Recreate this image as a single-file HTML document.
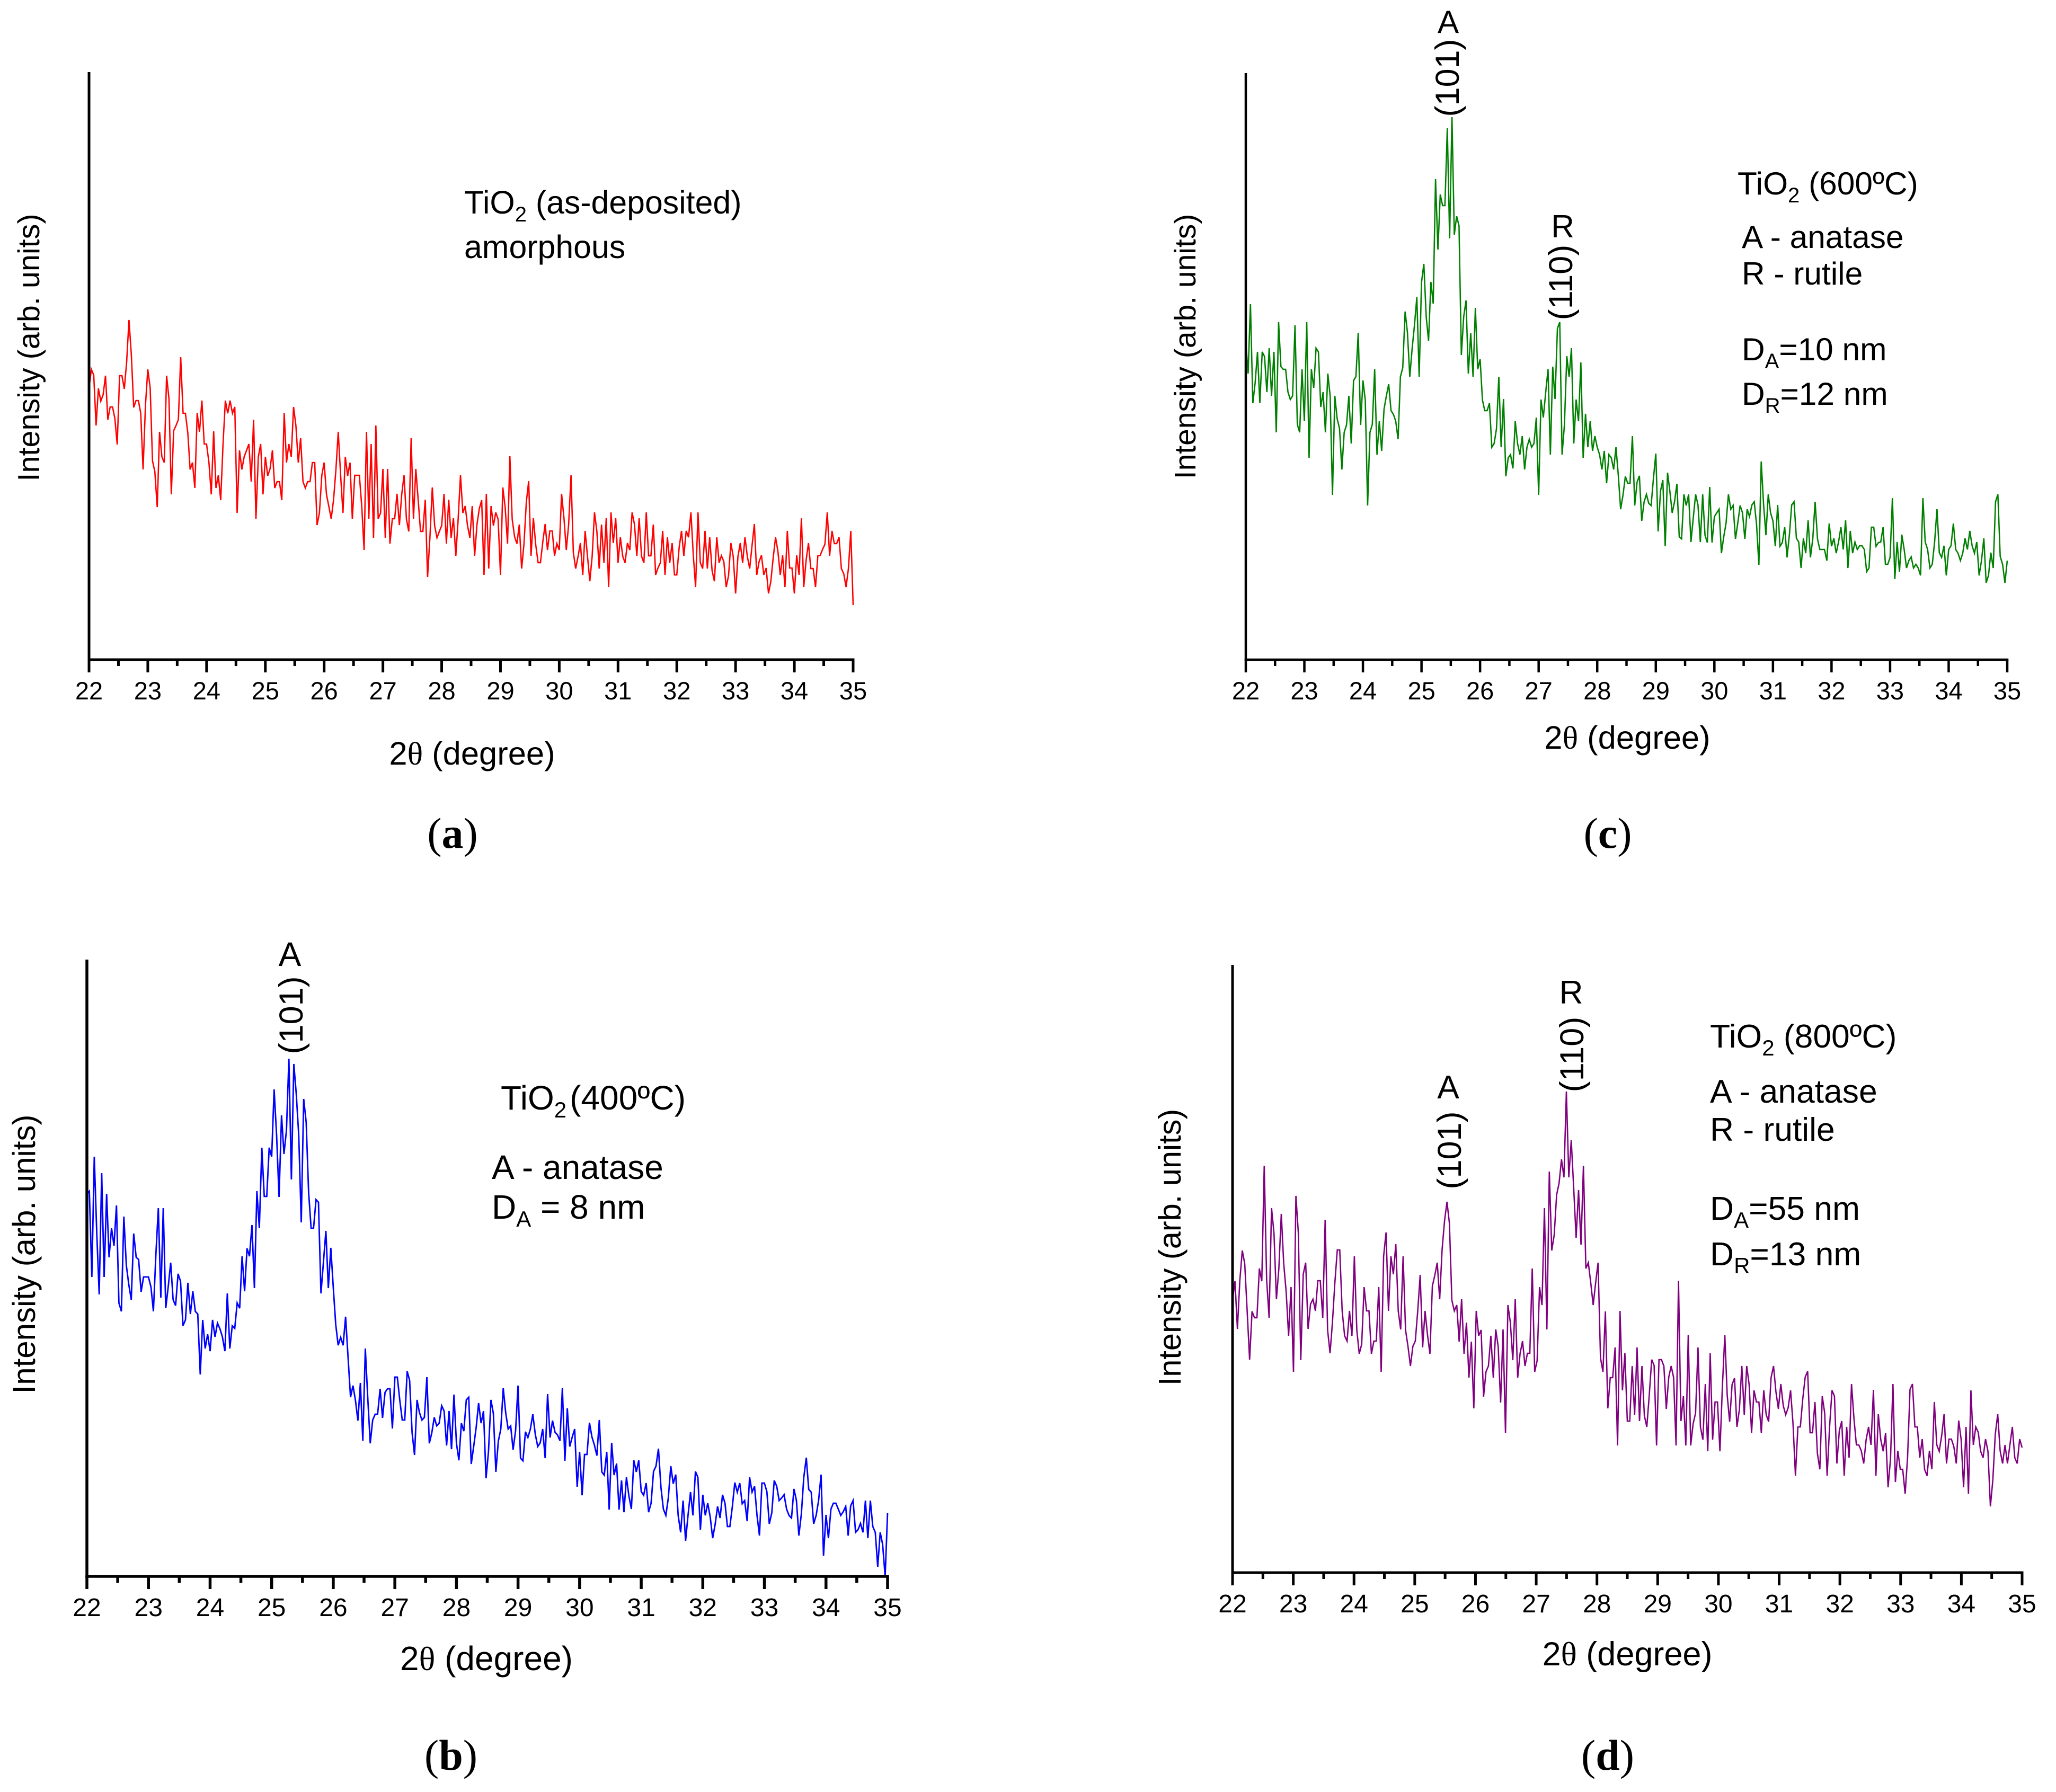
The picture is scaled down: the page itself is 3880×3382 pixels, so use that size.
<!DOCTYPE html>
<html lang="en">
<head>
<meta charset="utf-8">
<title>XRD patterns of TiO2 films</title>
<style>
html,body{margin:0;padding:0;background:#fff;}
svg{display:block;font-family:"Liberation Sans",sans-serif;fill:#000;}
.ann{font-size:60px;}
#panel-a .ann{font-size:60.8px;}
#panel-c .ann{font-size:60.4px;}
#panel-b .ann{font-size:64px;}
#panel-d .ann{font-size:62.4px;}
.ann.peak{font-size:63px !important;}
.tick{font-size:47px;text-anchor:middle;}
#panel-b .tick,#panel-d .tick{font-size:48px;}
.pl{font-family:"Liberation Serif",serif;font-size:82px;text-anchor:middle;}
</style>
</head>
<body>
<svg id="figure" xmlns="http://www.w3.org/2000/svg" width="3880" height="3382" viewBox="0 0 3880 3382">
<rect x="0" y="0" width="3880" height="3382" fill="#ffffff"/>

<g id="panel-a">
  <text transform="translate(74 656) rotate(-90)" text-anchor="middle" font-size="57.5">Intensity (arb. units)</text>
  <text x="891" y="1443" text-anchor="middle" font-size="61.5">2<tspan font-family="Liberation Serif">θ</tspan> (degree)</text>
  <text class="ann" x="876" y="403">TiO<tspan dy="15" font-size="40">2</tspan><tspan dy="-15"> (as-deposited)</tspan></text>
  <text class="ann" x="876" y="487">amorphous</text>
  <text class="pl" x="854" y="1600">(<tspan font-weight="bold">a</tspan>)</text>
</g>

<g id="panel-c">
  <text transform="translate(2256 654) rotate(-90)" text-anchor="middle" font-size="57">Intensity (arb. units)</text>
  <text x="3071" y="1413" text-anchor="middle" font-size="61.5">2<tspan font-family="Liberation Serif">θ</tspan> (degree)</text>
  <text class="ann" x="2733" y="62" text-anchor="middle">A</text>
  <text class="ann peak" transform="translate(2753 147) rotate(-90)" text-anchor="middle">(101)</text>
  <text class="ann" x="2949" y="448" text-anchor="middle">R</text>
  <text class="ann peak" transform="translate(2967 533) rotate(-90)" text-anchor="middle">(110)</text>
  <text class="ann" x="3279" y="367">TiO<tspan dy="15" font-size="40">2</tspan><tspan dy="-15"> (600ºC)</tspan></text>
  <text class="ann" x="3287" y="468">A - anatase</text>
  <text class="ann" x="3287" y="537">R - rutile</text>
  <text class="ann" x="3287" y="680">D<tspan dy="15" font-size="40">A</tspan><tspan dy="-15">=10 nm</tspan></text>
  <text class="ann" x="3287" y="764">D<tspan dy="15" font-size="40">R</tspan><tspan dy="-15">=12 nm</tspan></text>
  <text class="pl" x="3034" y="1600">(<tspan font-weight="bold">c</tspan>)</text>
</g>

<g id="panel-b">
  <text transform="translate(66 2367) rotate(-90)" text-anchor="middle" font-size="60">Intensity (arb. units)</text>
  <text x="918" y="3152" text-anchor="middle" font-size="64">2<tspan font-family="Liberation Serif">θ</tspan> (degree)</text>
  <text class="ann" x="547" y="1823" text-anchor="middle">A</text>
  <text class="ann peak" transform="translate(571 1916) rotate(-90)" text-anchor="middle">(101)</text>
  <text class="ann" x="945" y="2094">TiO<tspan dy="15" font-size="42">2</tspan><tspan dy="-15" dx="6">(400ºC)</tspan></text>
  <text class="ann" x="928" y="2225">A - anatase</text>
  <text class="ann" x="928" y="2300">D<tspan dy="15" font-size="42">A</tspan><tspan dy="-15"> = 8 nm</tspan></text>
  <text class="pl" x="851" y="3340">(<tspan font-weight="bold">b</tspan>)</text>
</g>

<g id="panel-d">
  <text transform="translate(2228 2354) rotate(-90)" text-anchor="middle" font-size="59.5">Intensity (arb. units)</text>
  <text x="3071" y="3143" text-anchor="middle" font-size="63">2<tspan font-family="Liberation Serif">θ</tspan> (degree)</text>
  <text class="ann" x="2733" y="2073" text-anchor="middle">A</text>
  <text class="ann peak" transform="translate(2757 2171) rotate(-90)" text-anchor="middle">(101)</text>
  <text class="ann" x="2965" y="1894" text-anchor="middle">R</text>
  <text class="ann peak" transform="translate(2988 1990) rotate(-90)" text-anchor="middle">(110)</text>
  <text class="ann" x="3227" y="1977">TiO<tspan dy="15" font-size="42">2</tspan><tspan dy="-15"> (800ºC)</tspan></text>
  <text class="ann" x="3227" y="2081">A - anatase</text>
  <text class="ann" x="3227" y="2153">R - rutile</text>
  <text class="ann" x="3227" y="2302">D<tspan dy="15" font-size="42">A</tspan><tspan dy="-15">=55 nm</tspan></text>
  <text class="ann" x="3227" y="2388">D<tspan dy="15" font-size="42">R</tspan><tspan dy="-15">=13 nm</tspan></text>
  <text class="pl" x="3034" y="3340">(<tspan font-weight="bold">d</tspan>)</text>
</g>
</svg>

<script>
// Axis tick labels (degrees 2-theta)
const thetaTicks = [22,23,24,25,26,27,28,29,30,31,32,33,34,35];
const thetaMin = 22;
const thetaMax = 35;

// Intensity readings (arb. units), evenly sampled from thetaMin to thetaMax
const intensityA = [518,554,543,448,518,494,506,542,459,483,483,461,412,542,542,517,568,647,581,482,495,495,471,365,486,554,519,381,361,294,436,389,378,542,498,318,438,448,459,577,471,471,434,365,378,330,472,436,495,413,413,378,318,437,330,354,307,413,495,471,495,471,483,283,401,365,389,401,413,342,459,272,389,413,318,389,353,366,401,330,342,342,307,472,378,413,389,483,448,378,424,342,330,342,342,378,378,260,283,354,378,318,295,272,307,364,436,354,283,389,353,378,272,354,354,354,295,213,436,272,413,236,448,272,283,366,236,366,225,272,272,319,260,318,354,271,248,424,272,366,307,248,248,308,162,238,331,259,236,248,259,319,225,308,236,273,202,271,354,283,296,259,236,296,202,
261,291,307,166,319,178,296,259,284,271,166,331,294,225,390,271,238,225,261,178,224,304,343,202,273,223,189,189,228,262,213,249,249,202,225,213,319,273,213,261,354,208,178,201,226,166,249,202,154,201,284,248,178,261,189,273,143,284,226,273,189,237,201,189,226,213,284,261,202,273,201,189,284,202,202,261,166,179,189,249,166,237,189,226,166,166,218,249,202,249,237,284,204,143,284,189,178,249,178,237,174,154,237,189,202,191,143,164,226,201,131,201,226,189,237,201,178,221,262,166,191,203,166,179,131,154,198,237,211,166,203,143,249,179,179,131,203,166,273,143,194,226,178,178,143,202,203,214,224,284,202,249,225,225,237,178,168,143,178,249,109];

const intensityC = [600,540,671,484,523,581,484,581,572,505,588,498,581,429,637,553,548,548,505,491,498,631,444,429,548,450,637,381,548,513,588,581,477,505,429,540,498,311,498,455,436,359,429,443,498,408,527,534,617,443,527,490,291,429,444,548,387,450,394,473,498,520,470,463,450,416,534,551,657,617,534,587,632,684,534,712,747,647,602,713,672,907,774,878,857,857,1003,795,1024,802,837,819,575,647,678,540,616,534,664,548,567,490,470,470,484,401,408,436,534,401,492,346,381,387,361,450,408,387,422,359,401,416,401,408,457,311,491,457,505,548,387,553,492,625,637,387,443,573,534,588,408,491,450,561,381,464,401,450,394,422,401,387,359,394,333,387,381,359,401,348,284,311,346,333,333,422,291,
335,347,262,298,312,295,291,342,389,242,318,339,214,353,318,277,298,332,232,228,312,291,312,222,268,312,292,222,312,235,221,326,221,270,277,284,201,232,258,312,284,291,228,258,291,277,228,284,270,292,298,255,179,374,292,235,312,277,262,214,292,214,221,250,193,235,292,298,229,222,173,229,201,263,193,228,298,228,208,208,208,187,257,214,229,201,222,250,208,263,173,243,201,222,208,215,215,208,166,173,250,250,214,221,222,250,180,180,193,305,152,222,166,236,208,173,187,194,173,180,173,159,305,222,208,173,180,222,284,202,193,215,159,208,215,257,208,201,187,201,229,208,243,215,201,222,159,187,229,145,159,202,173,298,312,195,180,145,187];

const intensityB = [722,727,565,792,648,532,761,565,722,602,657,624,700,516,500,679,587,551,522,647,602,598,537,565,565,565,546,500,608,695,526,695,506,546,592,522,511,571,557,473,484,554,495,538,500,495,381,484,430,457,425,484,452,478,467,452,425,534,430,473,468,516,506,604,538,619,604,663,544,727,657,809,717,717,809,792,919,832,716,870,797,842,977,749,967,909,832,668,901,857,725,657,657,711,706,534,592,652,544,620,546,475,436,451,436,490,414,338,360,332,294,365,256,430,337,251,295,306,306,354,299,347,354,354,279,376,376,332,295,295,387,370,271,229,333,309,295,300,376,251,271,300,284,289,322,312,247,312,240,343,251,219,289,274,333,338,212,245,281,327,289,312,185,
235,333,307,197,255,278,355,308,278,284,239,275,360,223,218,273,262,278,306,268,245,252,278,223,344,262,294,272,267,256,355,218,317,245,263,278,169,235,153,230,230,290,263,248,228,295,197,191,235,126,252,191,213,126,181,121,187,152,127,219,197,219,160,153,176,121,138,198,208,241,168,127,115,148,208,175,192,115,83,143,67,115,159,115,198,187,88,154,115,138,112,72,98,132,110,154,138,94,94,132,177,159,176,137,143,104,187,159,170,115,77,176,176,160,99,120,181,170,143,148,154,127,115,110,165,143,77,118,187,224,164,159,99,115,143,192,39,116,72,127,138,138,127,115,122,132,77,133,143,83,88,100,83,143,72,143,94,83,18,83,60,0,120];

const intensityD = [514,550,460,552,608,583,494,402,493,481,481,574,550,768,552,481,688,641,516,574,677,583,530,447,539,379,711,641,401,563,585,460,507,516,494,551,551,481,666,458,414,472,547,609,609,494,447,437,494,447,597,458,413,431,539,494,494,413,437,437,539,379,597,642,494,597,563,620,494,459,597,458,427,390,427,437,494,562,425,494,449,413,541,561,585,516,610,664,700,659,514,494,505,436,516,413,472,368,436,310,494,447,458,332,379,390,447,368,459,427,321,459,264,505,472,401,516,368,414,437,390,414,414,574,379,400,539,505,688,459,757,608,637,713,735,780,746,908,746,816,726,632,722,619,768,574,585,547,505,547,585,405,379,493,310,368,368,425,240,494,344,414,286,286,390,298,
425,286,390,296,275,335,402,391,240,402,402,390,309,369,390,368,240,551,286,333,240,448,240,281,301,425,275,251,356,229,414,251,322,322,229,351,448,335,285,355,367,275,308,390,298,390,355,264,344,322,322,264,344,298,285,368,390,341,309,356,315,298,311,344,281,183,275,275,328,369,380,264,264,322,225,195,333,301,183,275,344,333,206,268,286,183,275,217,356,291,241,241,230,206,251,275,241,345,183,299,251,229,264,161,215,356,171,230,195,195,149,218,346,356,275,275,217,252,195,183,230,195,322,241,229,258,299,206,252,252,238,206,287,251,161,275,149,344,241,275,265,229,217,252,229,125,175,261,299,230,206,241,206,241,275,217,206,252,236];

const svgNS = 'http://www.w3.org/2000/svg';

function xScale(theta, panel) {
  return panel.x0 + (theta - thetaMin) / (thetaMax - thetaMin) * (panel.x1 - panel.x0);
}
function yScale(value, panel) {
  return panel.bottom - (value - panel.valueAtAxis);
}
function thetaAt(index, count) {
  return thetaMin + (thetaMax - thetaMin) * index / (count - 1);
}
function drawLine(parent, x1, y1, x2, y2, width) {
  const l = document.createElementNS(svgNS, 'line');
  l.setAttribute('x1', x1);
  l.setAttribute('y1', y1);
  l.setAttribute('x2', x2);
  l.setAttribute('y2', y2);
  l.setAttribute('stroke', '#000');
  l.setAttribute('stroke-width', width);
  parent.appendChild(l);
  return l;
}

function drawPanel(panel) {
  const host = document.getElementById(panel.id);

  const series = document.createElementNS(svgNS, 'polyline');
  
  
  const pts = panel.values.map(function (v, i) {
    return xScale(thetaAt(i, panel.values.length), panel).toFixed(1) + ',' + yScale(v, panel).toFixed(1);
  }).join(' ');
  series.setAttribute('points', pts);
  series.setAttribute('fill', 'none');
  series.setAttribute('stroke', panel.color);
  series.setAttribute('stroke-width', panel.lineWidth);
  series.setAttribute('stroke-linejoin', 'miter');
  host.appendChild(series);

  const yAxis = drawLine(host, panel.x0, panel.top, panel.x0, panel.bottom + panel.axisWidth / 2, panel.axisWidth);
  
  

  const xAxis = drawLine(host, panel.x0 - panel.axisWidth / 2, panel.bottom, panel.x1 + panel.axisWidth / 2, panel.bottom, panel.axisWidth);
  
  

  thetaTicks.forEach(function (t, idx) {
    const x = xScale(t, panel);
    const major = drawLine(host, x, panel.bottom, x, panel.bottom + 24, panel.axisWidth);
    
    

    const label = document.createElementNS(svgNS, 'text');
    
    
    label.setAttribute('class', 'tick');
    label.setAttribute('x', x);
    label.setAttribute('y', panel.tickBaseline);
    label.textContent = String(t);
    host.appendChild(label);

    if (idx < thetaTicks.length - 1) {
      const xm = xScale(t + 0.5, panel);
      const minor = drawLine(host, xm, panel.bottom, xm, panel.bottom + 12, panel.axisWidth);
      
      
    }
  });
}

drawPanel({id:'panel-a', key:'a', values:intensityA, color:'#ff0000', lineWidth:2.6, axisWidth:5, x0:168, x1:1610, top:136, bottom:1245, valueAtAxis:6, tickBaseline:1320});
drawPanel({id:'panel-c', key:'c', values:intensityC, color:'#008000', lineWidth:2.6, axisWidth:4.5, x0:2351, x1:3788, top:138, bottom:1245, valueAtAxis:0, tickBaseline:1320});
drawPanel({id:'panel-b', key:'b', values:intensityB, color:'#0000ff', lineWidth:2.8, axisWidth:5.5, x0:164, x1:1675, top:1811, bottom:2975, valueAtAxis:0, tickBaseline:3050});
drawPanel({id:'panel-d', key:'d', values:intensityD, color:'#800080', lineWidth:2.6, axisWidth:5, x0:2326, x1:3816, top:1821, bottom:2968, valueAtAxis:0, tickBaseline:3043});
</script>
</body>
</html>
